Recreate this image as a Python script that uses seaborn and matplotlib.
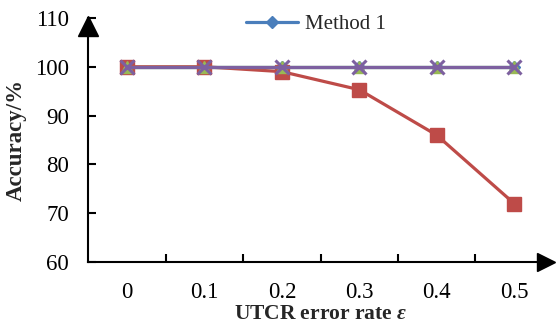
import numpy as np
import pandas as pd
import matplotlib
matplotlib.use("Agg")
import matplotlib.pyplot as plt
import seaborn as sns

# ── DATA ──────────────────────────────────────────────────
error_rate = [0, 0.1, 0.2, 0.3, 0.4, 0.5]
method_1 = [100, 100, 100, 100, 100, 100]
method_2 = [100, 100, 99.0, 95.3, 86.0, 72.0]
method_3 = [100, 100, 100, 100, 100, 100]
method_4 = [100, 100, 100, 100, 100, 100]
series_names = ["Method 1", "Method 2", "Method 3", "Method 4"]
y_ticks = [60, 70, 80, 90, 100, 110]

# ── STYLE ─────────────────────────────────────────────────
sns.set_theme(style="white")
plt.rcParams["font.family"] = ["Liberation Serif", "DejaVu Serif"]
plt.rcParams["mathtext.fontset"] = "custom"
plt.rcParams["mathtext.it"] = "Liberation Serif:italic:bold"
plt.rcParams["mathtext.rm"] = "Liberation Serif:bold"
FS = 16.5

styles = {
    "Method 1": dict(color="#4a7ebb", marker="D", ms=6.5),
    "Method 2": dict(color="#be4b48", marker="s", ms=10),
    "Method 3": dict(color="#98b954", marker="^", ms=9),
    "Method 4": dict(color="#7d60a0", marker="x", ms=10),
}

df = pd.DataFrame({"eps": error_rate * 4,
                   "acc": method_1 + method_2 + method_3 + method_4,
                   "method": np.repeat(series_names, len(error_rate))})

fig = plt.figure(figsize=(5.59, 3.26), dpi=100)
ax = fig.add_axes([0.158, 0.196, 0.831, 0.749])

for name in series_names:
    st = styles[name]
    sns.lineplot(data=df[df["method"] == name], x="eps", y="acc", ax=ax,
                 color=st["color"], marker=st["marker"], markersize=st["ms"],
                 markeredgecolor=st["color"], markeredgewidth=2.2 if st["marker"] == "x" else 1,
                 linewidth=2.3, label=name, legend=False, clip_on=False)

ax.set_xlim(-0.05, 0.55)
ax.set_ylim(60, 110)
ax.set_yticks(y_ticks)
ax.set_xticks(error_rate)
ax.set_xticklabels([str(e) for e in error_rate])
ax.set_xticks([e + 0.05 for e in error_rate[:-1]], minor=True)

for s in ["top", "right"]:
    ax.spines[s].set_visible(False)
for s in ["left", "bottom"]:
    ax.spines[s].set_color("black")
    ax.spines[s].set_linewidth(1.5)

ax.tick_params(axis="x", which="major", length=0, labelsize=FS, pad=14, colors="black")
ax.tick_params(axis="x", which="minor", direction="in", length=6, width=1.5, bottom=True, color="black")
ax.tick_params(axis="y", direction="in", length=6, width=1.5, labelsize=FS, pad=14, left=True, colors="black")

# axis arrows
ax.plot([0.985], [0], marker=">", ms=13, color="black", transform=ax.transAxes, clip_on=False)
ax.plot([0], [0.965], marker="^", ms=14, color="black", transform=ax.transAxes, clip_on=False)

ax.set_xlabel(r"UTCR error rate $\varepsilon$", fontsize=15.5, fontweight="bold", labelpad=1)
ax.set_ylabel("Accuracy/%", fontsize=FS, fontweight="bold", labelpad=6)

handles, labels = ax.get_legend_handles_labels()
ax.legend(handles[:1], labels[:1], loc="center", bbox_to_anchor=(0.49, 0.975),
          frameon=False, fontsize=15, handlelength=2.5, handletextpad=0.3)

plt.savefig("out.png", dpi=100)
